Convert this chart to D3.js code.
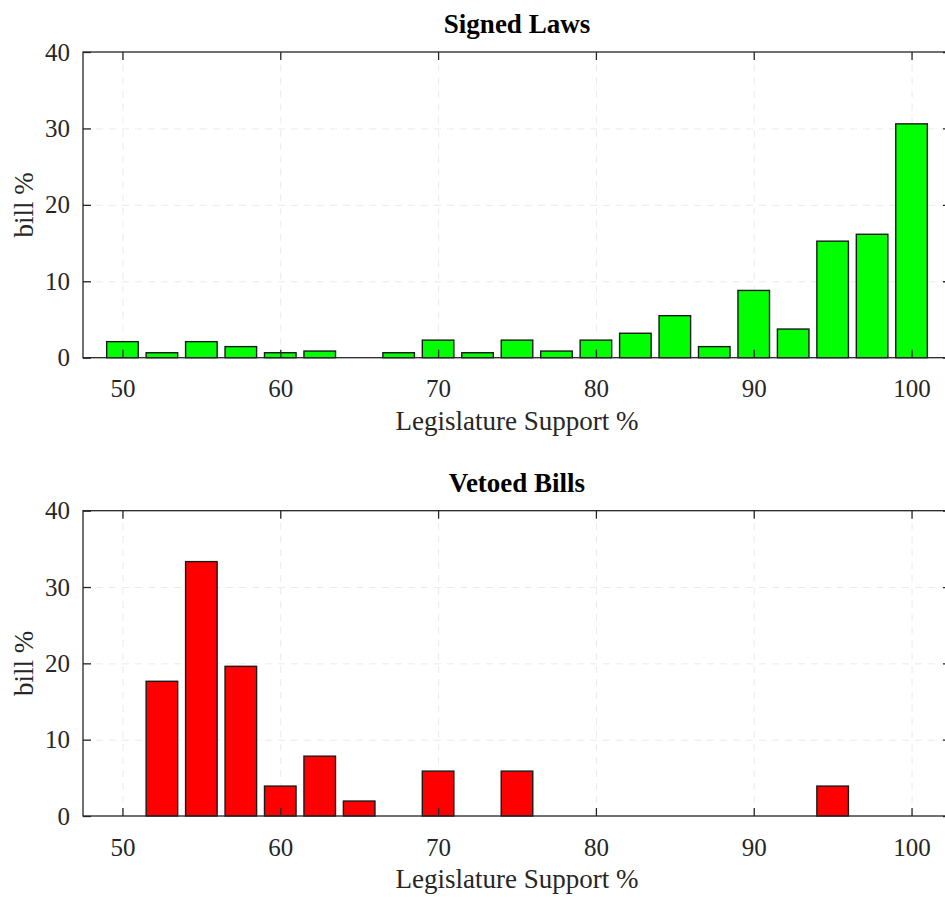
<!DOCTYPE html>
<html>
<head>
<meta charset="utf-8">
<script src="https://cdn.jsdelivr.net/npm/d3@7"></script>
<style>
  html, body { margin: 0; padding: 0; background: #fff; overflow: hidden; }
  svg { display: block; }
</style>
</head>
<body>
<div id="chart"></div>
<script>
// bin centres (Legislature Support %)
const binCenters = [50, 52.5, 55, 57.5, 60, 62.5, 65, 67.5, 70, 72.5, 75, 77.5, 80, 82.5, 85, 87.5, 90, 92.5, 95, 97.5, 100];
// bill % per bin
const signedValues = [2.1, 0.65, 2.1, 1.45, 0.65, 0.87, 0, 0.65, 2.3, 0.65, 2.3, 0.87, 2.3, 3.2, 5.5, 1.45, 8.8, 3.75, 15.25, 16.15, 30.6];
const vetoedValues = [0, 17.65, 33.33, 19.61, 3.92, 7.84, 1.96, 0, 5.88, 0, 5.88, 0, 0, 0, 0, 0, 0, 0, 3.92, 0, 0];
const xTicks = [50, 60, 70, 80, 90, 100];
const yTicks = [0, 10, 20, 30, 40];
const panels = [
  { title: 'Signed Laws', values: signedValues, color: '#00ff00', top: 52, bottom: 357.7 },
  { title: 'Vetoed Bills', values: vetoedValues, color: '#ff0000', top: 510.7, bottom: 816 }
];

const W = 960, H = 897;
const LEFT = 83, RIGHT = 951;
const BAR_W = 2.0;
const AXIS_COLOR = '#262626';
const FONT = '"Liberation Serif", "DejaVu Serif", serif';

const svg = d3.select('#chart').append('svg')
  .attr('width', W)
  .attr('height', H)
  .style('font-family', FONT);

const x = d3.scaleLinear().domain([47.5, 102.5]).range([LEFT, RIGHT]);

panels.forEach(p => {
  const y = d3.scaleLinear().domain([0, 40]).range([p.bottom, p.top]);
  const g = svg.append('g');
  const plotH = p.bottom - p.top;
  const plotW = RIGHT - LEFT;

  // ── grid (dashed, very light) ──
  g.append('g')
    .attr('transform', `translate(0,${p.bottom})`)
    .call(d3.axisBottom(x).tickValues(xTicks).tickSize(-plotH).tickFormat(''))
    .call(s => s.select('.domain').remove())
    .selectAll('line')
    .attr('stroke', '#ebebeb')
    .attr('stroke-dasharray', '7,6');

  g.append('g')
    .attr('transform', `translate(${LEFT},0)`)
    .call(d3.axisLeft(y).tickValues(yTicks.slice(1, -1)).tickSize(-plotW).tickFormat(''))
    .call(s => s.select('.domain').remove())
    .selectAll('line')
    .attr('stroke', '#ebebeb')
    .attr('stroke-dasharray', '7,6');

  // ── bars ──
  g.selectAll('rect.bar')
    .data(binCenters.map((c, i) => ({ c, v: p.values[i] })).filter(d => d.v > 0))
    .enter()
    .append('rect')
    .attr('class', 'bar')
    .attr('x', d => x(d.c - BAR_W / 2))
    .attr('width', d => x(d.c + BAR_W / 2) - x(d.c - BAR_W / 2))
    .attr('y', d => y(d.v))
    .attr('height', d => y(0) - y(d.v))
    .attr('fill', p.color)
    .attr('stroke', '#1a1a1a')
    .attr('stroke-width', 1.4);

  // ── box frame ──
  g.append('rect')
    .attr('x', LEFT)
    .attr('y', p.top)
    .attr('width', plotW)
    .attr('height', plotH)
    .attr('fill', 'none')
    .attr('stroke', AXIS_COLOR)
    .attr('stroke-width', 1.3);

  // ── x axis (ticks inward) ──
  const xAxis = g.append('g')
    .attr('transform', `translate(0,${p.bottom})`)
    .call(d3.axisBottom(x).tickValues(xTicks).tickSize(-8).tickPadding(22).tickFormat(d3.format('d')));
  xAxis.select('.domain').remove();
  xAxis.selectAll('line').attr('stroke', AXIS_COLOR).attr('stroke-width', 1.3);
  xAxis.selectAll('text')
    .attr('fill', AXIS_COLOR)
    .attr('font-size', '25px')
    .style('font-family', FONT);

  // top ticks
  g.append('g')
    .attr('transform', `translate(0,${p.top})`)
    .call(d3.axisTop(x).tickValues(xTicks).tickSize(-8).tickFormat(''))
    .call(s => s.select('.domain').remove())
    .selectAll('line').attr('stroke', AXIS_COLOR).attr('stroke-width', 1.3);

  // ── y axis (ticks inward) ──
  const yAxis = g.append('g')
    .attr('transform', `translate(${LEFT},0)`)
    .call(d3.axisLeft(y).tickValues(yTicks).tickSize(-8).tickPadding(13).tickFormat(d3.format('d')));
  yAxis.select('.domain').remove();
  yAxis.selectAll('line').attr('stroke', AXIS_COLOR).attr('stroke-width', 1.3);
  yAxis.selectAll('text')
    .attr('fill', AXIS_COLOR)
    .attr('font-size', '25px')
    .style('font-family', FONT);

  // right ticks
  g.append('g')
    .attr('transform', `translate(${RIGHT},0)`)
    .call(d3.axisRight(y).tickValues(yTicks).tickSize(-8).tickFormat(''))
    .call(s => s.select('.domain').remove())
    .selectAll('line').attr('stroke', AXIS_COLOR).attr('stroke-width', 1.3);

  // ── labels ──
  g.append('text')
    .attr('x', (LEFT + RIGHT) / 2)
    .attr('y', p.top - 19)
    .attr('text-anchor', 'middle')
    .attr('font-size', '27px')
    .attr('font-weight', 'bold')
    .attr('fill', '#000')
    .text(p.title);

  g.append('text')
    .attr('x', (LEFT + RIGHT) / 2)
    .attr('y', p.bottom + 72)
    .attr('text-anchor', 'middle')
    .attr('font-size', '27px')
    .attr('fill', AXIS_COLOR)
    .text('Legislature Support %');

  g.append('text')
    .attr('transform', `translate(33,${(p.top + p.bottom) / 2}) rotate(-90)`)
    .attr('text-anchor', 'middle')
    .attr('font-size', '27px')
    .attr('fill', AXIS_COLOR)
    .text('bill %');
});
</script>
</body>
</html>
